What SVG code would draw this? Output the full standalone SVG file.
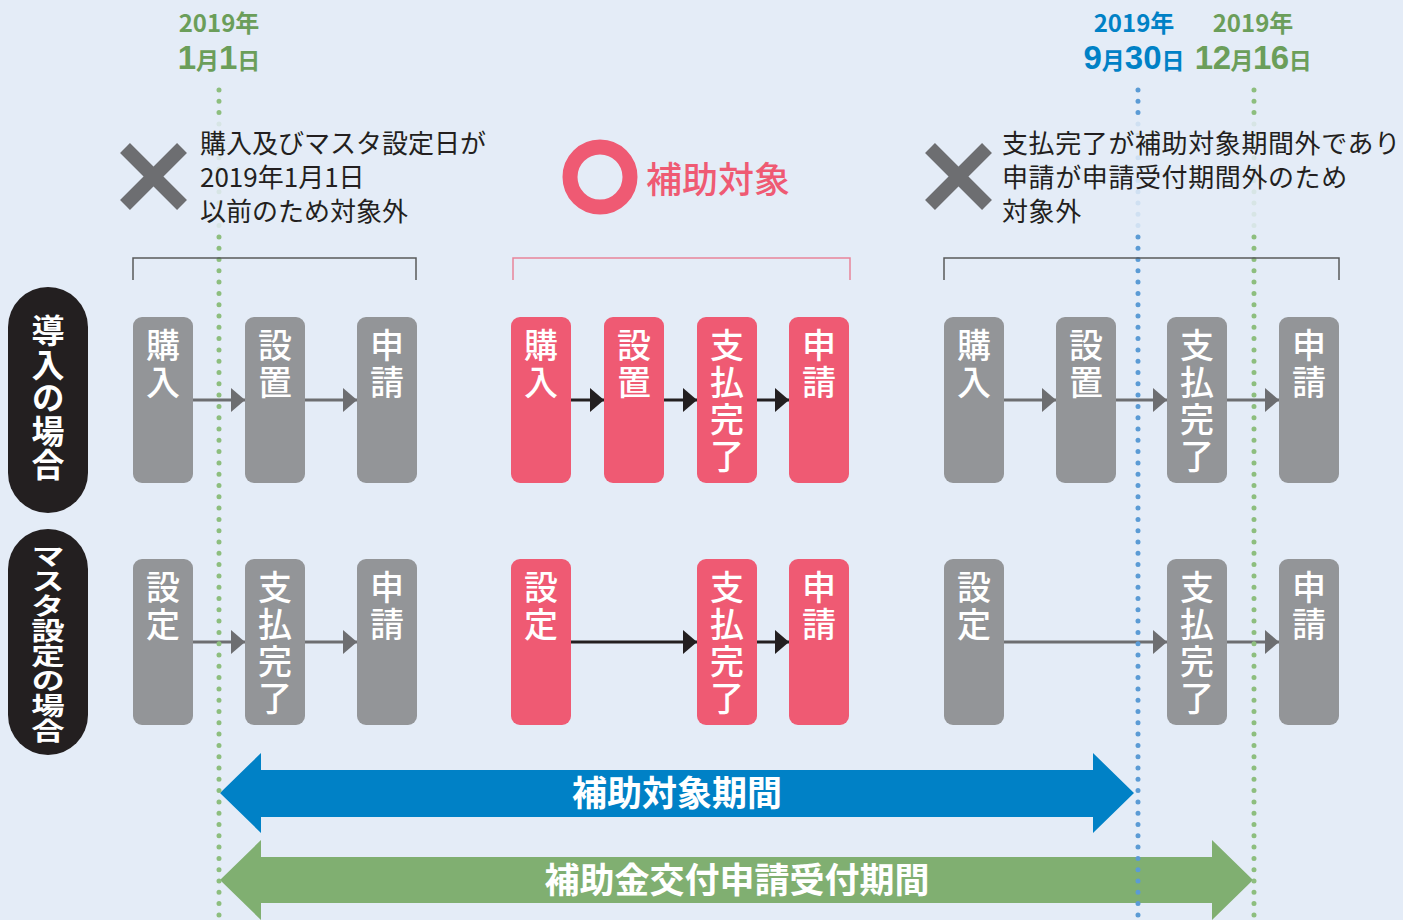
<svg xmlns="http://www.w3.org/2000/svg" width="1403" height="920" viewBox="0 0 1403 920">
<style>
text{font-family:"Noto Sans CJK JP","Noto Sans",sans-serif}
.bx{fill:#939598}
.pk{fill:#EF5A73}
.bt{fill:#fff;font-size:34px;font-weight:500;writing-mode:vertical-rl;letter-spacing:3px}
.note{fill:#231F20;font-size:26px}
.side{fill:#231F20}
.st{fill:#fff;font-weight:700;writing-mode:vertical-rl}
.ga{stroke:#6D6E71;stroke-width:3;fill:none;marker-end:url(#hg)}
.ka{stroke:#231F20;stroke-width:3;fill:none;marker-end:url(#hk)}
.dot{fill:none;stroke-width:5;stroke-linecap:round;stroke-dasharray:0 11.3}
.xm{stroke:#6D6E71;stroke-width:14}
.bigt{fill:#fff;font-size:35px;font-weight:700;text-anchor:middle}
.dg{fill:#6B9E5A;font-weight:700;text-anchor:middle}
.db{fill:#0081C6;font-weight:700;text-anchor:middle}
.num{font-family:"Liberation Sans",Arial,sans-serif;font-size:33px}
.unit{font-size:23px}
</style>
<defs>
<marker id="hg" markerUnits="userSpaceOnUse" markerWidth="14" markerHeight="24" refX="14" refY="12" orient="auto"><path d="M0,0 L14,12 L0,24 Z" fill="#6D6E71"/></marker>
<marker id="hk" markerUnits="userSpaceOnUse" markerWidth="14" markerHeight="24" refX="14" refY="12" orient="auto"><path d="M0,0 L14,12 L0,24 Z" fill="#231F20"/></marker>
</defs>
<rect width="1403" height="920" fill="#E4ECF7"/>

<g id="periods">
<polygon points="220,793 261,753 261,770 1093,770 1093,753 1134,793 1093,833 1093,817 261,817 261,833" fill="#0081C6"/>
<text class="bigt" x="677" y="806">補助対象期間</text>
<polygon points="220,880 261,840 261,857 1212,857 1212,840 1253,880 1212,920 1212,903 261,903 261,920" fill="#80AF71"/>
<text class="bigt" x="737" y="893">補助金交付申請受付期間</text>
</g>

<g id="connectors">
<line class="ga" x1="193" y1="400" x2="245" y2="400"/>
<line class="ga" x1="305" y1="400" x2="357" y2="400"/>
<line class="ga" x1="193" y1="642" x2="245" y2="642"/>
<line class="ga" x1="305" y1="642" x2="357" y2="642"/>
<line class="ka" x1="571" y1="400" x2="604" y2="400"/>
<line class="ka" x1="664" y1="400" x2="697" y2="400"/>
<line class="ka" x1="757" y1="400" x2="789" y2="400"/>
<line class="ka" x1="571" y1="642" x2="697" y2="642"/>
<line class="ka" x1="757" y1="642" x2="789" y2="642"/>
<line class="ga" x1="1004" y1="400" x2="1056" y2="400"/>
<line class="ga" x1="1116" y1="400" x2="1167" y2="400"/>
<line class="ga" x1="1227" y1="400" x2="1279" y2="400"/>
<line class="ga" x1="1004" y1="642" x2="1167" y2="642"/>
<line class="ga" x1="1227" y1="642" x2="1279" y2="642"/>
</g>

<g id="timelines">
<line class="dot" x1="219" y1="90" x2="219" y2="920" stroke="#8DBE7E"/>
<line class="dot" x1="1138" y1="90" x2="1138" y2="920" stroke="#5B9BD5"/>
<line class="dot" x1="1254" y1="90" x2="1254" y2="920" stroke="#8DBE7E"/>
<text class="dg" x="219" y="32" font-size="24">2019年</text>
<text class="dg" x="219" y="69"><tspan class="num">1</tspan><tspan class="unit">月</tspan><tspan class="num">1</tspan><tspan class="unit">日</tspan></text>
<text class="db" x="1134" y="32" font-size="24">2019年</text>
<text class="db" x="1134" y="69"><tspan class="num">9</tspan><tspan class="unit">月</tspan><tspan class="num">30</tspan><tspan class="unit">日</tspan></text>
<text class="dg" x="1253" y="32" font-size="24">2019年</text>
<text class="dg" x="1253" y="69" letter-spacing="-0.5"><tspan class="num">12</tspan><tspan class="unit">月</tspan><tspan class="num">16</tspan><tspan class="unit">日</tspan></text>
</g>

<g id="note-left">
<rect x="196" y="121" width="300" height="107" fill="#E4ECF7" opacity="0.85"/>
<line class="xm" x1="125" y1="148" x2="182" y2="205"/>
<line class="xm" x1="182" y1="148" x2="125" y2="205"/>
<text class="note" x="200" y="153">購入及びマスタ設定日が</text>
<text class="note" x="200" y="187">2019年1月1日</text>
<text class="note" x="200" y="221">以前のため対象外</text>
<path d="M133,280 V258 H416 V280" fill="none" stroke="#58595B" stroke-width="1.5"/>
</g>

<g id="note-center">
<circle cx="600" cy="177" r="30" fill="none" stroke="#EF5A73" stroke-width="15"/>
<text x="646" y="193" font-size="36" font-weight="500" fill="#EF5A73">補助対象</text>
<path d="M513,280 V258 H850 V280" fill="none" stroke="#E8849A" stroke-width="1.5"/>
</g>

<g id="note-right">
<rect x="998" y="121" width="405" height="107" fill="#E4ECF7" opacity="0.85"/>
<line class="xm" x1="930" y1="148" x2="987" y2="205"/>
<line class="xm" x1="987" y1="148" x2="930" y2="205"/>
<text class="note" x="1002" y="153" letter-spacing="0.6">支払完了が補助対象期間外であり</text>
<text class="note" x="1002" y="187" letter-spacing="0.6">申請が申請受付期間外のため</text>
<text class="note" x="1002" y="221" letter-spacing="0.6">対象外</text>
<path d="M944,280 V258 H1339 V280" fill="none" stroke="#58595B" stroke-width="1.5"/>
</g>

<g id="label-dounyu">
<rect class="side" x="8" y="287" width="80" height="226" rx="40"/>
<text class="st" x="48" y="314" font-size="33" letter-spacing="0.6">導入の場合</text>
</g>
<g id="label-master">
<rect class="side" x="8" y="529" width="80" height="226" rx="40"/>
<g transform="translate(48,543) scale(1.34,1)">
<text class="st" x="0" y="0" font-size="25">マスタ設定の場合</text>
</g>
</g>

<g id="l-r1-1"><rect class="bx" x="133" y="317" width="60" height="166" rx="9"/><text class="bt" x="163" y="328">購入</text></g>
<g id="l-r1-2"><rect class="bx" x="245" y="317" width="60" height="166" rx="9"/><text class="bt" x="275" y="328">設置</text></g>
<g id="l-r1-3"><rect class="bx" x="357" y="317" width="60" height="166" rx="9"/><text class="bt" x="387" y="328">申請</text></g>
<g id="l-r2-1"><rect class="bx" x="133" y="559" width="60" height="166" rx="9"/><text class="bt" x="163" y="570">設定</text></g>
<g id="l-r2-2"><rect class="bx" x="245" y="559" width="60" height="166" rx="9"/><text class="bt" x="275" y="570">支払完了</text></g>
<g id="l-r2-3"><rect class="bx" x="357" y="559" width="60" height="166" rx="9"/><text class="bt" x="387" y="570">申請</text></g>

<g id="c-r1-1"><rect class="pk" x="511" y="317" width="60" height="166" rx="9"/><text class="bt" x="541" y="328">購入</text></g>
<g id="c-r1-2"><rect class="pk" x="604" y="317" width="60" height="166" rx="9"/><text class="bt" x="634" y="328">設置</text></g>
<g id="c-r1-3"><rect class="pk" x="697" y="317" width="60" height="166" rx="9"/><text class="bt" x="727" y="328">支払完了</text></g>
<g id="c-r1-4"><rect class="pk" x="789" y="317" width="60" height="166" rx="9"/><text class="bt" x="819" y="328">申請</text></g>
<g id="c-r2-1"><rect class="pk" x="511" y="559" width="60" height="166" rx="9"/><text class="bt" x="541" y="570">設定</text></g>
<g id="c-r2-3"><rect class="pk" x="697" y="559" width="60" height="166" rx="9"/><text class="bt" x="727" y="570">支払完了</text></g>
<g id="c-r2-4"><rect class="pk" x="789" y="559" width="60" height="166" rx="9"/><text class="bt" x="819" y="570">申請</text></g>

<g id="r-r1-1"><rect class="bx" x="944" y="317" width="60" height="166" rx="9"/><text class="bt" x="974" y="328">購入</text></g>
<g id="r-r1-2"><rect class="bx" x="1056" y="317" width="60" height="166" rx="9"/><text class="bt" x="1086" y="328">設置</text></g>
<g id="r-r1-3"><rect class="bx" x="1167" y="317" width="60" height="166" rx="9"/><text class="bt" x="1197" y="328">支払完了</text></g>
<g id="r-r1-4"><rect class="bx" x="1279" y="317" width="60" height="166" rx="9"/><text class="bt" x="1309" y="328">申請</text></g>
<g id="r-r2-1"><rect class="bx" x="944" y="559" width="60" height="166" rx="9"/><text class="bt" x="974" y="570">設定</text></g>
<g id="r-r2-3"><rect class="bx" x="1167" y="559" width="60" height="166" rx="9"/><text class="bt" x="1197" y="570">支払完了</text></g>
<g id="r-r2-4"><rect class="bx" x="1279" y="559" width="60" height="166" rx="9"/><text class="bt" x="1309" y="570">申請</text></g>
</svg>
